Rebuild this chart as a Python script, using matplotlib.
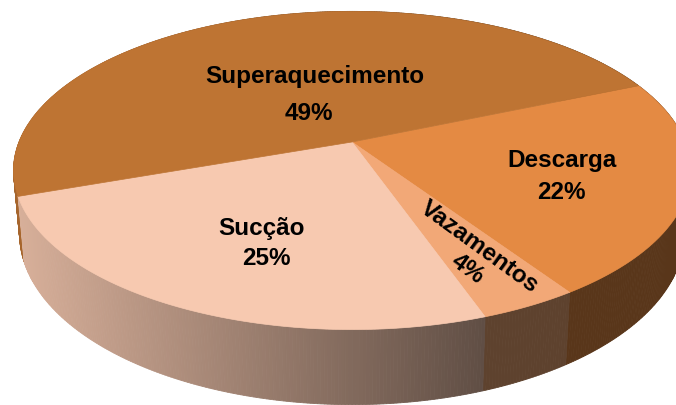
import numpy as np
import matplotlib
matplotlib.use('AGG')
import matplotlib.pyplot as plt
from matplotlib.colors import to_rgb
from matplotlib.patches import Polygon

# dados (sentido horario a partir de Descarga)
categorias = ['Descarga', 'Vazamentos', 'Sucção', 'Superaquecimento']
valores = [22, 4, 25, 49]
cores = ['#E48A43', '#F2A877', '#F7C9B0', '#BE7433']

# posicao dos rotulos (linha do nome, linha do %), rotacao
pos_nome = [(562, 167), (476, 252), (262, 235), (315, 83)]
pos_pct = [(561, 199), (464, 274), (266, 265), (309, 120)]
rot = [0, -36, 0, 0]

# geometria da pizza 3D (perspectiva simples)
cx, cy = 352, 143      # centro projetado
A, B = 333, 154        # semi-eixos
k = 0.179              # perspectiva
H = 61.6               # espessura
s_base = 0.982         # base um pouco menor (mais longe da camera)
inicio = -23           # angulo inicial em graus


def proj(phi_deg, depth=0.0):
    phi = np.radians(phi_deg)
    u, v = np.cos(phi), np.sin(phi)
    w = 1 - k * v
    esc = s_base if depth else 1.0
    return cx + esc * A * u / w, cy + (B * v + depth) / w


fig = plt.figure(figsize=(6.76, 4.06), dpi=100)
ax = fig.add_axes([0, 0, 1, 1])
ax.set_xlim(0, 676)
ax.set_ylim(406, 0)
ax.axis('off')

fracs = np.array(valores) / sum(valores) * 360
limites = inicio + np.concatenate([[0], np.cumsum(fracs)])

# lateral, de tras para frente
lados = []
for i in range(len(valores)):
    phis = np.linspace(limites[i], limites[i + 1], int(fracs[i] * 2) + 2)
    for a0, a1 in zip(phis[:-1], phis[1:]):
        x0, y0 = proj(a0)
        x1, y1 = proj(a1)
        xb0, yb0 = proj(a0, H)
        xb1, yb1 = proj(a1, H)
        xm = (x0 + x1) / 2
        f = np.clip(0.87 - 0.48 * (xm - 20) / 463, 0.39, 0.9)
        col = np.array(to_rgb(cores[i])) * f
        lados.append((np.sin(np.radians((a0 + a1) / 2)),
                      [(x0, y0), (x1, y1), (xb1, yb1), (xb0, yb0)], col))
lados.sort(key=lambda q: q[0])
for _, pts, col in lados:
    ax.add_patch(Polygon(pts, closed=True, fc=col, ec=col, lw=0.6))

# topo
for i in range(len(valores)):
    phis = np.linspace(limites[i], limites[i + 1], 200)
    pts = [(cx, cy)] + [proj(p) for p in phis]
    ax.add_patch(Polygon(pts, closed=True, fc=cores[i], ec=cores[i], lw=0.5))

fonte = dict(family=['Liberation Sans', 'DejaVu Sans'], weight='bold', size=17.5,
             color='black', ha='center', va='baseline', rotation_mode='anchor')
for i in range(len(valores)):
    ax.text(*pos_nome[i], categorias[i], rotation=rot[i], **fonte)
    ax.text(*pos_pct[i], f'{valores[i]}%', rotation=rot[i], **fonte)

plt.savefig('out.png', dpi=100)
